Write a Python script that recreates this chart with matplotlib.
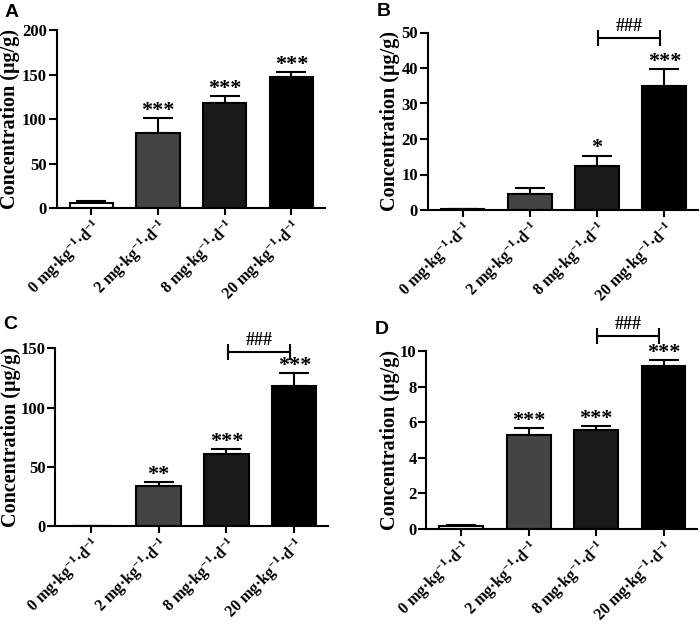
import matplotlib
matplotlib.use('Agg')
import matplotlib.pyplot as plt

plt.rcParams['font.family'] = ['Liberation Serif', 'DejaVu Serif']
plt.rcParams['font.weight'] = 'bold'
plt.rcParams['mathtext.fontset'] = 'custom'
plt.rcParams['mathtext.rm'] = 'Liberation Serif:bold'
plt.rcParams['mathtext.it'] = 'Liberation Serif:bold'
plt.rcParams['mathtext.bf'] = 'Liberation Serif:bold'
plt.rcParams['mathtext.default'] = 'rm'

# Data
doses = ['0', '2', '8', '20']
tick_labels = [d + ' mg·kg$^{-1}$·d$^{-1}$' for d in doses]

a_mean = [5.5, 84, 118, 147]
a_err = [2, 17, 7.5, 6]
a_stars = ['', '***', '***', '***']

b_mean = [0.3, 4.5, 12.5, 35]
b_err = [0.1, 1.6, 2.8, 4.7]
b_stars = ['', '', '*', '***']

c_mean = [0, 33.8, 60.5, 118]
c_err = [0, 3.2, 4.5, 11]
c_stars = ['', '**', '***', '***']

d_mean = [0.15, 5.3, 5.55, 9.19]
d_err = [0.05, 0.38, 0.22, 0.3]
d_stars = ['', '***', '***', '***']

bar_colors = ['white', '#444444', '#1a1a1a', 'black']

# letter, means, errors, stars, ymax, step, bracket height, axes rect, ylabel x, letter pos
panels = [
    ('A', a_mean, a_err, a_stars, 200, 50, None, [0.081, 0.667, 0.383, 0.285], -0.138, (0.007, 0.993)),
    ('B', b_mean, b_err, b_stars, 50, 10, 48.5, [0.611, 0.664, 0.386, 0.284], -0.104, (0.538, 0.995)),
    ('C', c_mean, c_err, c_stars, 150, 50, 147, [0.079, 0.158, 0.390, 0.285], -0.127, (0.004, 0.495)),
    ('D', d_mean, d_err, d_stars, 10, 2, 10.85, [0.609, 0.154, 0.387, 0.284], -0.096, (0.536, 0.487)),
]

fig = plt.figure(figsize=(7, 6.25), dpi=100)

for letter, mean, err, stars, ymax, step, bracket_y, rect, lab_x, let_pos in panels:
    ax = fig.add_axes(rect)
    x = list(range(len(mean)))
    ax.bar(x, mean, width=0.65, color=bar_colors, edgecolor='black', linewidth=1.5, zorder=2)
    ax.errorbar(x, mean, yerr=[[0] * len(err), err], fmt='none', ecolor='black',
                elinewidth=1.5, capsize=11, capthick=1.5, zorder=1)
    for xi, m, e, s in zip(x, mean, err, stars):
        if s:
            ax.annotate(s, (xi, m + e), xytext=(0, -2), textcoords='offset points',
                        ha='center', va='bottom', fontsize=16, fontweight='bold',
                        annotation_clip=False)
    if bracket_y is not None:
        ax.errorbar(2.48, bracket_y, xerr=0.46, fmt='none', ecolor='black',
                    elinewidth=1.5, capsize=5.5, capthick=1.5, clip_on=False)
        ax.annotate('###', (2.48, bracket_y), xytext=(0, 2), textcoords='offset points',
                    ha='center', va='bottom', fontsize=13, fontweight='bold',
                    annotation_clip=False)

    ax.set_xlim(-0.52, 3.5)
    ax.set_ylim(0, ymax)
    ax.set_yticks(range(0, ymax + 1, step))
    ax.set_xticks(x)
    ax.set_xticklabels(tick_labels, rotation=45, ha='right', rotation_mode='anchor',
                       fontsize=11.5, fontweight='bold')
    for lab in ax.get_yticklabels():
        lab.set_fontsize(12)
        lab.set_fontweight('bold')
    ax.spines['top'].set_visible(False)
    ax.spines['right'].set_visible(False)
    ax.spines['left'].set_linewidth(1.5)
    ax.spines['bottom'].set_linewidth(1.5)
    ax.tick_params(axis='y', width=1.5, length=6, direction='out', pad=1)
    ax.tick_params(axis='x', width=1.5, length=5, direction='out', pad=1)
    ax.set_ylabel('Concentration (μg/g)', fontsize=14.5, fontweight='bold')
    ax.yaxis.set_label_coords(lab_x, 0.5)

    fig.text(let_pos[0], let_pos[1], letter, fontsize=14, fontweight='bold',
             family=['Liberation Sans', 'DejaVu Sans'], ha='left', va='top')

fig.savefig('out.png', dpi=100)
